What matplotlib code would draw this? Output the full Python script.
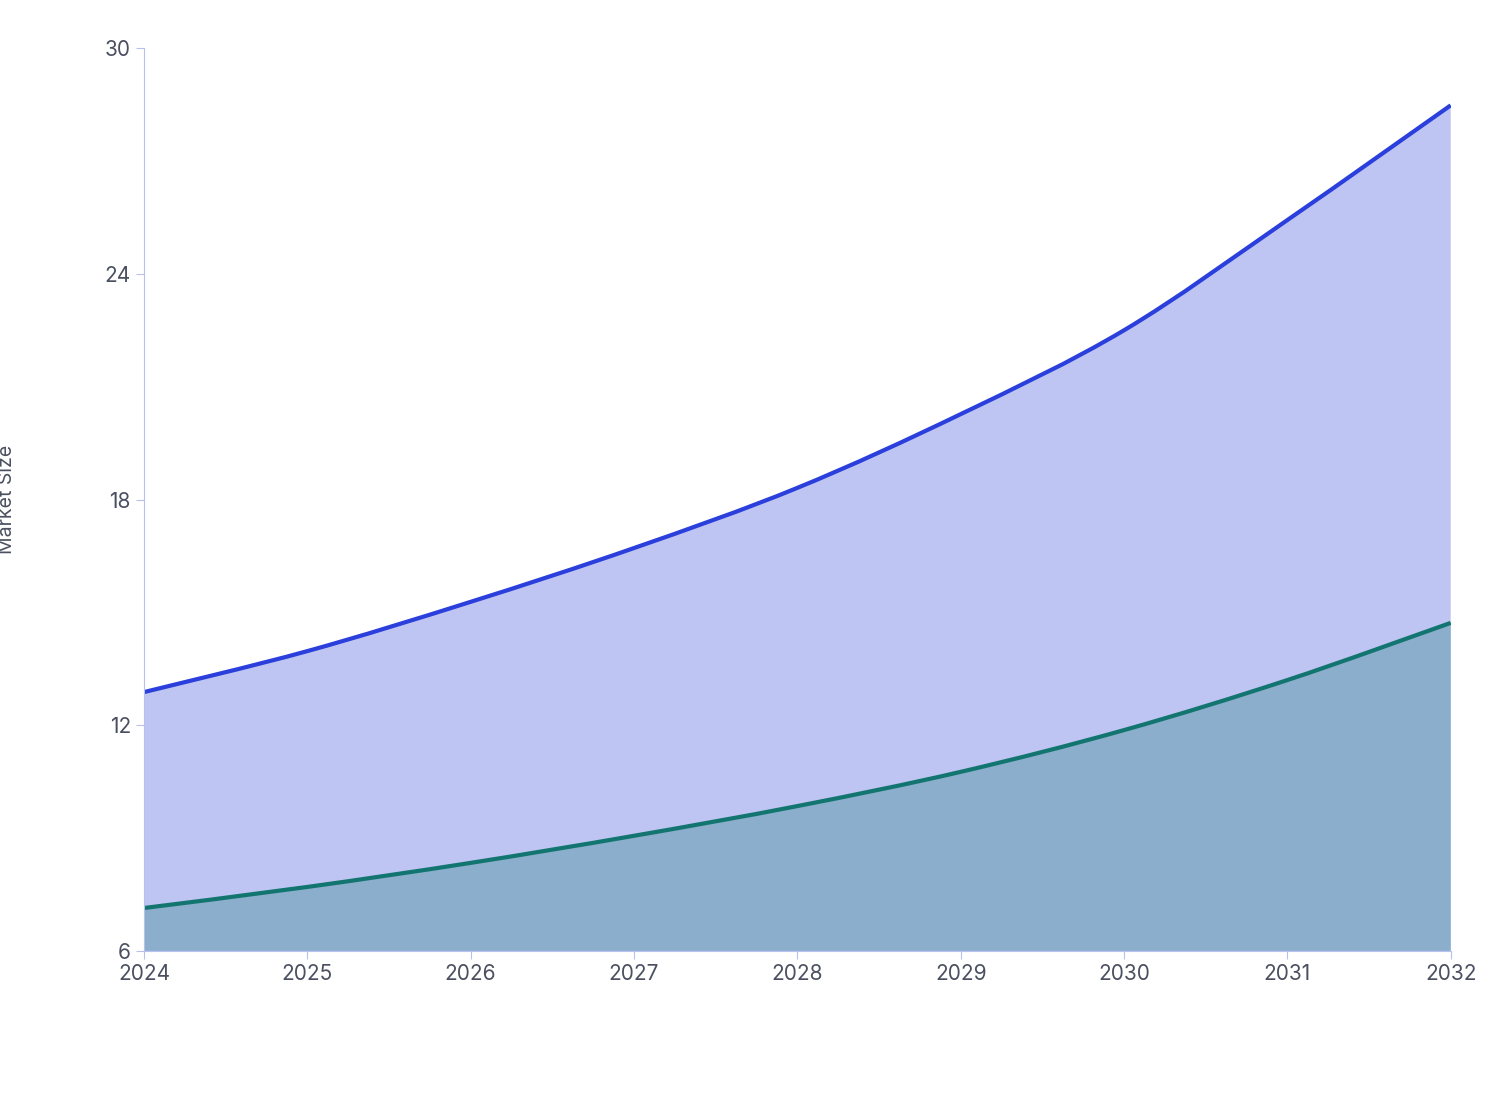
import matplotlib
matplotlib.use("Agg")
import matplotlib.pyplot as plt
from matplotlib.path import Path
from matplotlib.patches import PathPatch

years = [2024, 2025, 2026, 2027, 2028, 2029, 2030, 2031, 2032]
total = [12.88, 13.97, 15.28, 16.71, 18.31, 20.27, 22.5, 25.43, 28.48]
segment = [7.14, 7.70, 8.34, 9.06, 9.85, 10.76, 11.87, 13.2, 14.72]
yticks = [6, 12, 18, 24, 30]


def curve_verts(xs, ys):
    # Catmull-Rom style Bezier control points through the data points
    n = len(xs)
    verts = [(xs[0], ys[0])]
    codes = [Path.MOVETO]
    for i in range(n - 1):
        x0, y0 = (xs[i - 1], ys[i - 1]) if i > 0 else (xs[i], ys[i])
        x1, y1 = xs[i], ys[i]
        x2, y2 = xs[i + 1], ys[i + 1]
        x3, y3 = (xs[i + 2], ys[i + 2]) if i + 2 < n else (x2, y2)
        verts += [(x1 + (x2 - x0) / 6, y1 + (y2 - y0) / 6),
                  (x2 - (x3 - x1) / 6, y2 - (y3 - y1) / 6),
                  (x2, y2)]
        codes += [Path.CURVE4] * 3
    return verts, codes


def draw(ax, xs, ys, fill, line):
    v, c = curve_verts(xs, ys)
    fv = v + [(xs[-1], 6), (xs[0], 6), (xs[0], ys[0])]
    fc = c + [Path.LINETO, Path.LINETO, Path.CLOSEPOLY]
    ax.add_patch(PathPatch(Path(fv, fc), facecolor=fill, lw=0))
    ax.add_patch(PathPatch(Path(v, c), facecolor='none', edgecolor=line, lw=3))


plt.rcParams['font.family'] = ['Inter', 'DejaVu Sans']
fig = plt.figure(figsize=(15.08, 11.2), dpi=100)
ax = fig.add_axes([0.0955, 0.151, 0.8665, 0.806])

draw(ax, years, total, '#bec5f2', '#2a3fdb')
draw(ax, years, segment, '#8aaecb', '#137570')

ax.set_xlim(2024, 2032)
ax.set_ylim(6, 30)
ax.set_xticks(years)
ax.set_yticks(yticks)
for s in ['top', 'right']:
    ax.spines[s].set_visible(False)
for s in ['left', 'bottom']:
    ax.spines[s].set_color('#b8c0f0')
ax.tick_params(colors='#b8c0f0', labelcolor='#4a5060', labelsize=15, length=6)
ax.set_ylabel('Market Size', color='#4a5060', fontsize=14)
ax.yaxis.set_label_coords(-0.098, 0.5)
fig.savefig('out.png', dpi=100)
